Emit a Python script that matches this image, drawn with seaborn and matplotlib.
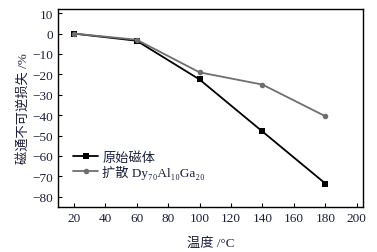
import matplotlib
matplotlib.use('Agg')
import matplotlib.pyplot as plt
import seaborn as sns
import pandas as pd

# data
temps = [20, 60, 100, 140, 180]
loss_orig = [0, -3.5, -22.5, -48, -73.5]
loss_diff = [0, -3, -19, -25, -40.5]
lab_orig = '原始磁体'
lab_diff = '扩散 Dy₇₀Al₁₀Ga₂₀'

sns.set_theme(style='white')
plt.rcParams['font.family'] = ['Liberation Serif', 'Noto Sans CJK SC']
txt = '#1a1f3a'

df = pd.DataFrame({'T': temps * 2,
                   'loss': loss_orig + loss_diff,
                   'grp': [lab_orig] * 5 + [lab_diff] * 5})

fig = plt.figure(figsize=(3.77, 2.53), dpi=100)
ax = fig.add_axes([0.154, 0.178, 0.809, 0.782])
sns.lineplot(data=df, x='T', y='loss', hue='grp', style='grp',
             palette={lab_orig: 'black', lab_diff: '#6e6e6e'},
             markers={lab_orig: 's', lab_diff: 'o'}, dashes=False,
             markersize=4, linewidth=1.3, markeredgewidth=0, ax=ax)

ax.set_xlim(10, 204)
ax.set_ylim(-85, 12)
ax.set_xticks(range(20, 201, 20))
ax.set_yticks(range(-80, 11, 10))
ax.tick_params(direction='in', length=3, width=0.8, labelsize=9.5,
               colors='black', labelcolor=txt, left=True, bottom=True)
for s in ax.spines.values():
    s.set_color('black')
    s.set_linewidth(1)
ax.set_xlabel('温度 /°C', fontsize=9.5, color=txt, labelpad=9)
ax.set_ylabel('磁通不可逆损失 /%', fontsize=9.5, color=txt, labelpad=2)

leg = ax.legend(loc='upper left', bbox_to_anchor=(0.02, 0.33), frameon=False,
                fontsize=9.5, handlelength=1.9, labelspacing=0.1,
                borderpad=0.2, handletextpad=0.3)
for t in leg.get_texts():
    t.set_color(txt)

fig.savefig('out.png', dpi=100)
